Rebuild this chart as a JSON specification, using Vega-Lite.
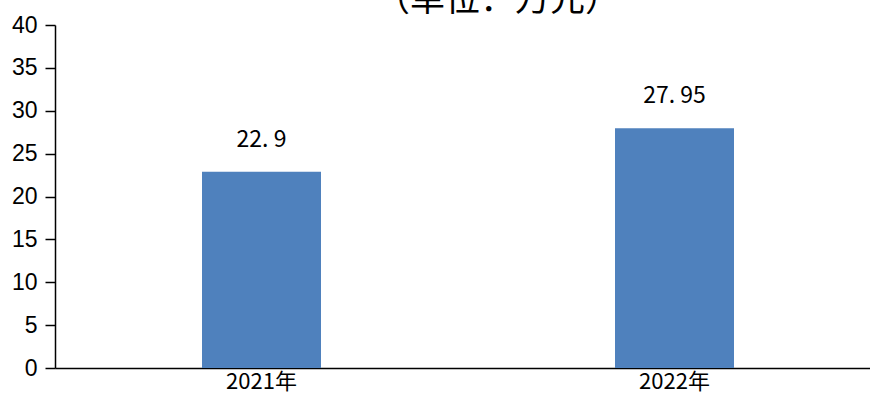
{
  "$schema": "https://vega.github.io/schema/vega-lite/v6.json",
  "autosize": {"type": "none"},
  "width": 815,
  "height": 343,
  "padding": {"left": 55, "top": 25, "right": 0, "bottom": 43},
  "background": "white",
  "title": {"text": "（单位：万元）", "fontSize": 35, "font": "Noto Sans CJK SC", "fontWeight": "normal", "color": "black", "anchor": "middle", "offset": -4, "dx": 35},
  "data": {"values": [
    {"year": "2021年", "value": 22.9, "label": "22. 9"},
    {"year": "2022年", "value": 27.95, "label": "27. 95"}
  ]},
  "encoding": {
    "x": {"field": "year", "type": "nominal", "sort": null,
      "scale": {"paddingInner": 0, "paddingOuter": 0, "range": [0, 826]},
      "axis": {"title": null, "labelAngle": 0, "ticks": false, "labelFont": "Noto Sans CJK SC", "labelFontSize": 22, "labelColor": "black", "domainColor": "black", "domainWidth": 1.5, "labelPadding": 3}},
    "y": {"field": "value", "type": "quantitative",
      "scale": {"domain": [0, 40], "nice": false},
      "axis": {"title": null, "values": [0,5,10,15,20,25,30,35,40], "grid": false, "labelFont": "Liberation Sans", "labelFontSize": 23, "labelColor": "black", "domainColor": "black", "domainWidth": 1.5, "tickColor": "black", "tickWidth": 1.5, "tickSize": 10, "labelPadding": 8}}
  },
  "layer": [
    {"mark": {"type": "bar", "width": 119, "color": "#4F81BD"}},
    {"mark": {"type": "text", "baseline": "bottom", "dy": -20, "fontSize": 23, "font": "Noto Sans CJK SC", "color": "black"},
     "encoding": {"text": {"field": "label"}}}
  ],
  "config": {"view": {"stroke": null}}
}
